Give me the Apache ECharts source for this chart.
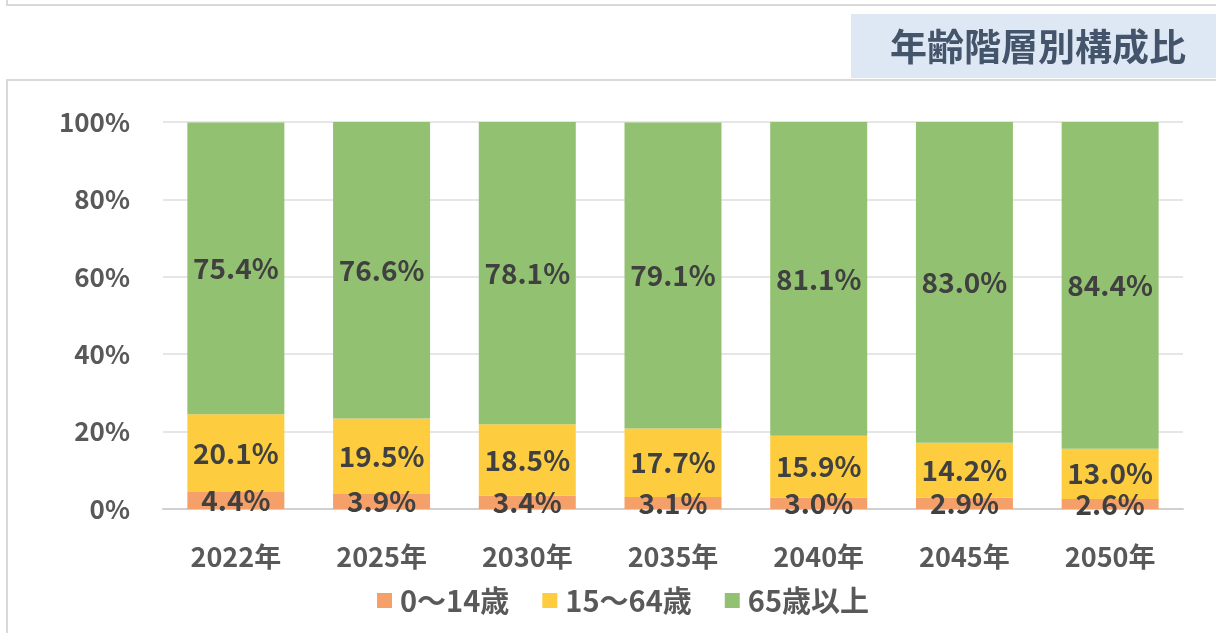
<!DOCTYPE html>
<html>
<head>
<meta charset="utf-8">
<script src="https://cdn.jsdelivr.net/npm/echarts@6/dist/echarts.min.js"></script>
<style>
  html, body { margin: 0; padding: 0; background: #fff; }
  #chart { width: 1216px; height: 633px; }
</style>
</head>
<body>
<div id="chart"></div>
<script>
// 年齢階層別構成比
const years = ['2022年', '2025年', '2030年', '2035年', '2040年', '2045年', '2050年']
const seriesNames = ['0～14歳', '15～64歳', '65歳以上']
const age0to14 = [4.4, 3.9, 3.4, 3.1, 3.0, 2.9, 2.6]
const age15to64 = [20.1, 19.5, 18.5, 17.7, 15.9, 14.2, 13.0]
const age65over = [75.4, 76.6, 78.1, 79.1, 81.1, 83.0, 84.4]
const yTicks = [0, 20, 40, 60, 80, 100]

const font = '"Noto Sans CJK JP", "Noto Sans", sans-serif'
const colors = ['#f4a068', '#fecd3f', '#93c172']

const dom = echarts.init(document.getElementById('chart'))

function makeSeries (name, data, color) {
  return {
    name: name,
    type: 'bar',
    stack: 'total',
    barWidth: 97,
    data: data,
    itemStyle: { color: color },
    label: {
      show: true,
      position: 'inside',
      formatter: p => p.value.toFixed(1) + '%',
      color: '#404040',
      fontFamily: font,
      fontWeight: 'bold',
      fontSize: 28
    },
    emphasis: { disabled: true }
  }
}

const option = {
  animation: false,
  color: colors,
  graphic: [
    // 上の枠
    { type: 'rect', shape: { x: 7, y: -10, width: 1230, height: 15 }, style: { fill: 'none', stroke: '#d9d9d9', lineWidth: 2 }, silent: true },
    // グラフ枠
    { type: 'rect', shape: { x: 7, y: 80, width: 1230, height: 600 }, style: { fill: 'none', stroke: '#d9d9d9', lineWidth: 2 }, silent: true },
    // タイトル背景
    { type: 'rect', shape: { x: 851, y: 14, width: 370, height: 64 }, style: { fill: '#dde8f4' }, silent: true },
    {
      type: 'text',
      x: 1038,
      y: 47,
      style: {
        text: '年齢階層別構成比',
        fill: '#44546a',
        font: 'bold 37px ' + font,
        align: 'center',
        verticalAlign: 'middle'
      },
      silent: true
    }
  ],
  legend: {
    data: seriesNames,
    bottom: 18,
    left: 377,
    padding: 0,
    itemWidth: 15,
    itemHeight: 15,
    itemGap: 33,
    icon: 'rect',
    textStyle: {
      color: '#595959',
      fontFamily: font,
      fontWeight: 'bold',
      fontSize: 29,
      padding: [0, 0, 0, 3]
    }
  },
  grid: {
    left: 163,
    right: 33,
    top: 122,
    bottom: 124
  },
  xAxis: {
    type: 'category',
    data: years,
    axisTick: { show: false },
    axisLine: { lineStyle: { color: '#d0d0d0', width: 2 } },
    axisLabel: {
      margin: 34,
      color: '#595959',
      fontFamily: font,
      fontWeight: 'bold',
      fontSize: 27
    }
  },
  yAxis: {
    type: 'value',
    min: 0,
    max: 100,
    interval: 20,
    axisLine: { show: false },
    axisTick: { show: false },
    splitLine: { lineStyle: { color: '#e6e6e6', width: 2 } },
    axisLabel: {
      margin: 33,
      color: '#595959',
      fontFamily: font,
      fontWeight: 'bold',
      fontSize: 26,
      formatter: v => (yTicks.indexOf(v) >= 0 ? v + '%' : '')
    }
  },
  series: [
    makeSeries(seriesNames[0], age0to14, colors[0]),
    makeSeries(seriesNames[1], age15to64, colors[1]),
    makeSeries(seriesNames[2], age65over, colors[2])
  ]
}

dom.setOption(option)
window.addEventListener('resize', () => dom.resize())
</script>
</body>
</html>
